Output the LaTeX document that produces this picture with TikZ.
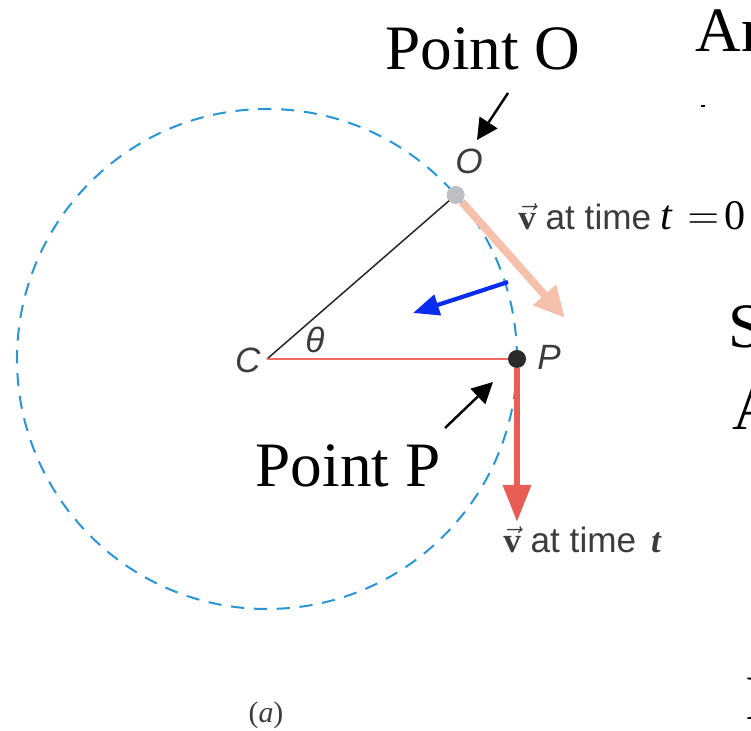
\documentclass[tikz,border=0pt]{standalone}
\usepackage{amsmath}
\usepackage{fontspec}
\setmainfont{Liberation Serif}
\newfontfamily\figfont{Liberation Sans}
\usepackage{tikz}
\usetikzlibrary{arrows.meta}
\definecolor{pathBlue}{HTML}{2A96D6}
\definecolor{labelGray}{HTML}{3C3C3C}
\definecolor{dotGray}{HTML}{BEBFC3}
\definecolor{dotDark}{HTML}{2B2B2B}
\definecolor{radiusRed}{HTML}{EE6A62}
\definecolor{vzeroSalmon}{HTML}{F5C1AC}
\definecolor{vtRed}{HTML}{E85E56}
\definecolor{accBlue}{HTML}{0A2CEE}

\begin{document}
\begin{tikzpicture}[
    labeltext/.style={font=\figfont\fontsize{20}{24}\selectfont, text=labelGray, inner sep=0pt},
    slidetext/.style={font=\fontsize{36}{43}\selectfont, inner sep=0pt, anchor=base west},
    dot/.style={circle, minimum size=0.36cm, inner sep=0pt},
    pointer/.style={-{Triangle[length=0.42cm, width=0.42cm]}, line width=1.4pt},
    ]
    \useasboundingbox (-5.34,-7.44) rectangle (9.68,7.18);
    \clip (-5.34,-7.44) rectangle (9.68,7.18);

    \coordinate (C) at (0,0);
    \coordinate (O) at (41:5);
    \coordinate (P) at (5,0);

    \draw[pathBlue, line width=1.15pt, dash pattern=on 7.5pt off 5.5pt] (C) circle (5);

    \draw[black!85, line width=0.85pt] (C) -- (O);
    \draw[radiusRed, line width=1.1pt] (C) -- (P);

    \node[dot, fill=dotGray] (Odot) at (O) {};
    \node[dot, fill=dotDark] (Pdot) at (P) {};

    \coordinate (vzerotip) at (5.96,0.82);
    \coordinate (vttip) at (5,-3.26);
    \coordinate (accstart) at (4.82,1.54);
    \coordinate (acctip) at (2.92,0.92);

    \draw[vzeroSalmon, line width=4.5pt, -{Triangle[length=0.62cm, width=0.58cm]}] (Odot) -- (vzerotip);
    \draw[vtRed, line width=3.6pt, -{Triangle[length=0.74cm, width=0.54cm]}] (Pdot) -- (vttip);
    \draw[accBlue, line width=2.4pt, -{Triangle[length=0.52cm, width=0.42cm]}] (accstart) -- (acctip);

    \node[labeltext] (Olabel) at (4.04,3.96) {\textit{O}};
    \node[labeltext] (Plabel) at (5.64,0.04) {\textit{P}};
    \node[labeltext] (Clabel) at (-0.38,-0.02) {\textit{C}};
    \node[labeltext] (thetalabel) at (0.96,0.38) {\textit{θ}};

    \node[labeltext, anchor=base west] (vzerolabel) at (5.02,2.58)
        {$\vec{\mathbf{v}}$ at time {\rmfamily\fontsize{24}{28}\selectfont\color{black}\textit{t}\hspace{8pt}$=$\hspace{3pt}0}};
    \node[labeltext, anchor=base west] (vtlabel) at (4.72,-3.88)
        {$\vec{\mathbf{v}}$ at time\hspace{3pt} {\rmfamily\textbf{\textit{t}}}};

    \node[slidetext, anchor=base] (pointO) at (4.32,5.78) {Point O};
    \node[slidetext, anchor=base] (pointP) at (1.62,-2.56) {Point P};

    \coordinate (Ofrom) at (4.82,5.32);
    \coordinate (Oto) at (4.20,4.38);
    \coordinate (Pfrom) at (3.56,-1.38);
    \coordinate (Pto) at (4.52,-0.46);
    \draw[pointer] (Ofrom) -- (Oto);
    \draw[pointer] (Pfrom) -- (Pto);

    \node[font=\fontsize{17}{20}\selectfont, text=labelGray] (caption) at (-0.02,-7.12) {(\textit{a})};

    % cut-off slide text at the right edge
    \node[slidetext] (slideA) at (8.56,6.14) {Ar};
    \draw[line width=0.8pt] (8.68,5.06) -- (8.76,5.06);
    \node[slidetext] (slideB) at (9.22,0.22) {S};
    \node[slidetext] (slideC) at (9.30,-1.42) {A};
    \node[slidetext] (slideD) at (9.56,-7.2) {I};
\end{tikzpicture}
\end{document}
